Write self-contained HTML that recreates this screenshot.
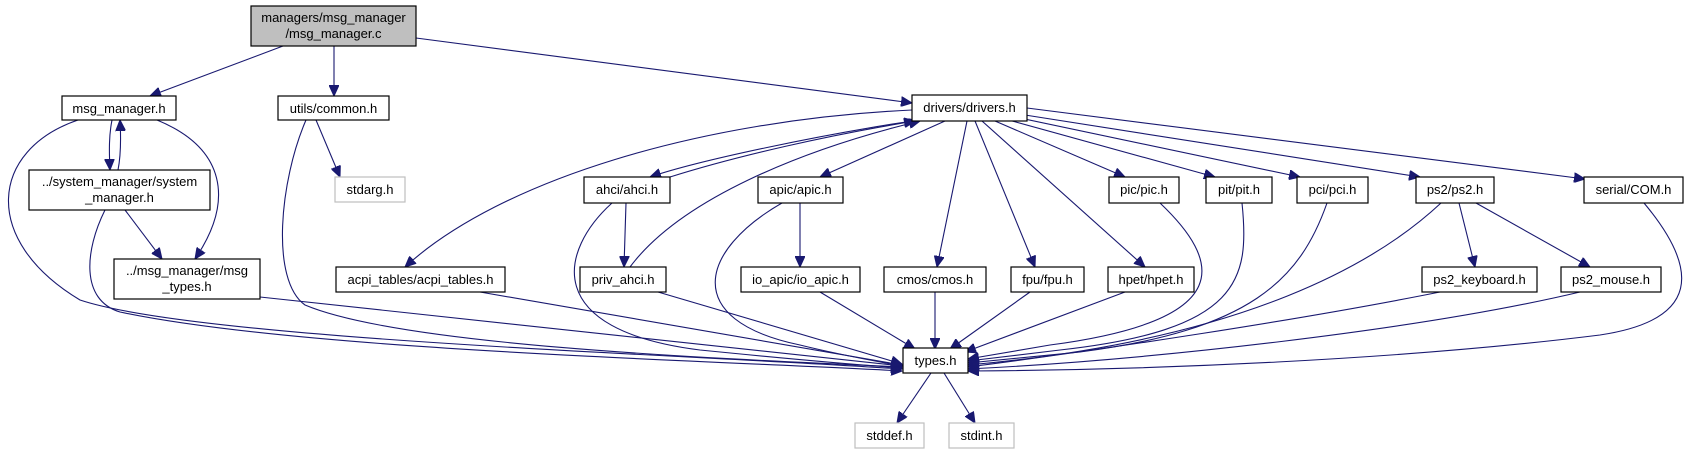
<!DOCTYPE html>
<html><head><meta charset="utf-8"><style>
body{margin:0;background:#fff;}
svg{display:block;}
text{font-family:"Liberation Sans",Arial,sans-serif;font-size:13px;fill:#000;text-anchor:middle;}
.n{fill:#fff;stroke:#000;stroke-width:1.2;}
.g{fill:#fff;stroke:#bfbfbf;stroke-width:1.2;}
.e{fill:none;stroke:#191970;stroke-width:1.1;}
</style></head><body>
<svg width="1689" height="455" viewBox="0 0 1689 455" xmlns="http://www.w3.org/2000/svg">
<defs><marker id="a" markerUnits="userSpaceOnUse" markerWidth="12" markerHeight="10" refX="11" refY="5" orient="auto"><path d="M0,0 L11,5 L0,10 z" fill="#191970" stroke="#191970"/></marker></defs>
<g marker-end="url(#a)">
<path class="e" d="M283,46 L150,96"/>
<path class="e" d="M334,46 L334,96"/>
<path class="e" d="M416,38 L912,103"/>
<path class="e" d="M112,120 C109,135 109,150 110,170"/>
<path class="e" d="M118,170 C121,155 121,138 120,120"/>
<path class="e" d="M157,120 C225,148 235,200 195,259"/>
<path class="e" d="M78,120 C-10,150 -20,240 80,300 C200,340 700,355 902,369"/>
<path class="e" d="M125,210 L162,259"/>
<path class="e" d="M105,210 C85,250 80,300 120,312 C300,350 700,360 902,371"/>
<path class="e" d="M260,297 L902,366"/>
<path class="e" d="M306,120 C280,180 270,280 305,305 C400,345 700,358 902,367"/>
<path class="e" d="M316,120 L340,177"/>
<path class="e" d="M912,110 C700,120 500,180 405,267"/>
<path class="e" d="M912,121 C820,135 700,160 650,177"/>
<path class="e" d="M670,177 C740,155 830,135 915,121"/>
<path class="e" d="M630,267 C680,200 800,150 920,121"/>
<path class="e" d="M945,121 L820,177"/>
<path class="e" d="M967,121 L937,267"/>
<path class="e" d="M975,121 L1035,267"/>
<path class="e" d="M982,121 L1145,267"/>
<path class="e" d="M995,121 L1125,177"/>
<path class="e" d="M1005,119 L1215,177"/>
<path class="e" d="M1015,117 L1300,177"/>
<path class="e" d="M1025,115 L1420,177"/>
<path class="e" d="M1027,108 L1585,179"/>
<path class="e" d="M626,203 L624,267"/>
<path class="e" d="M612,203 C560,250 540,330 700,350 C800,360 860,365 902,368"/>
<path class="e" d="M800,203 L800,267"/>
<path class="e" d="M782,203 C700,250 680,320 800,345 C840,355 870,360 902,366"/>
<path class="e" d="M658,292 L902,364"/>
<path class="e" d="M820,292 L915,349"/>
<path class="e" d="M480,292 L902,365"/>
<path class="e" d="M935,292 L935,349"/>
<path class="e" d="M1030,292 L950,349"/>
<path class="e" d="M1125,292 L965,352"/>
<path class="e" d="M1160,203 C1220,260 1240,320 1050,345 L968,359"/>
<path class="e" d="M1242,203 C1250,280 1240,330 1060,350 L968,361"/>
<path class="e" d="M1327,203 C1300,280 1250,330 1080,352 L968,363"/>
<path class="e" d="M1441,203 C1380,260 1250,340 968,365"/>
<path class="e" d="M1459,203 L1475,267"/>
<path class="e" d="M1476,203 L1590,267"/>
<path class="e" d="M1440,292 C1300,320 1100,350 968,367"/>
<path class="e" d="M1580,292 C1420,330 1150,360 968,369"/>
<path class="e" d="M1644,203 C1700,270 1700,320 1600,335 C1400,360 1150,370 968,371"/>
<path class="e" d="M931,373 L897,423"/>
<path class="e" d="M944,373 L975,423"/>
</g>
<rect x="251" y="6" width="165" height="40" fill="#bfbfbf" stroke="#000" stroke-width="1.2"/>
<text x="333.5" y="22">managers/msg_manager</text><text x="333.5" y="38">/msg_manager.c</text>
<rect class="n" x="62" y="96" width="114" height="24"/><text x="119" y="113">msg_manager.h</text>
<rect class="n" x="278" y="96" width="111" height="24"/><text x="333.5" y="113">utils/common.h</text>
<rect class="n" x="29" y="170" width="181" height="40"/><text x="119.5" y="186">../system_manager/system</text><text x="119.5" y="202">_manager.h</text>
<rect class="g" x="335" y="177" width="70" height="25"/><text x="370" y="194">stdarg.h</text>
<rect class="n" x="114" y="259" width="146" height="40"/><text x="187" y="275">../msg_manager/msg</text><text x="187" y="291">_types.h</text>
<rect class="n" x="336" y="267" width="169" height="25"/><text x="420.5" y="284">acpi_tables/acpi_tables.h</text>
<rect class="n" x="912" y="95" width="115" height="26"/><text x="969.5" y="112">drivers/drivers.h</text>
<rect class="n" x="584" y="177" width="86" height="26"/><text x="627" y="194">ahci/ahci.h</text>
<rect class="n" x="758" y="177" width="85" height="26"/><text x="800.5" y="194">apic/apic.h</text>
<rect class="n" x="1109" y="177" width="70" height="26"/><text x="1144" y="194">pic/pic.h</text>
<rect class="n" x="1206" y="177" width="66" height="26"/><text x="1239" y="194">pit/pit.h</text>
<rect class="n" x="1297" y="177" width="71" height="26"/><text x="1332.5" y="194">pci/pci.h</text>
<rect class="n" x="1416" y="177" width="78" height="26"/><text x="1455" y="194">ps2/ps2.h</text>
<rect class="n" x="1584" y="177" width="99" height="26"/><text x="1633.5" y="194">serial/COM.h</text>
<rect class="n" x="580" y="267" width="86" height="25"/><text x="623" y="284">priv_ahci.h</text>
<rect class="n" x="741" y="267" width="119" height="25"/><text x="800.5" y="284">io_apic/io_apic.h</text>
<rect class="n" x="884" y="267" width="102" height="25"/><text x="935" y="284">cmos/cmos.h</text>
<rect class="n" x="1011" y="267" width="73" height="25"/><text x="1047.5" y="284">fpu/fpu.h</text>
<rect class="n" x="1108" y="267" width="86" height="25"/><text x="1151" y="284">hpet/hpet.h</text>
<rect class="n" x="1422" y="267" width="115" height="25"/><text x="1479.5" y="284">ps2_keyboard.h</text>
<rect class="n" x="1561" y="267" width="100" height="25"/><text x="1611" y="284">ps2_mouse.h</text>
<rect class="n" x="903" y="348" width="65" height="25"/><text x="935.5" y="365">types.h</text>
<rect class="g" x="855" y="423" width="69" height="25"/><text x="889.5" y="440">stddef.h</text>
<rect class="g" x="949" y="423" width="65" height="25"/><text x="981.5" y="440">stdint.h</text>
</svg>
</body></html>
